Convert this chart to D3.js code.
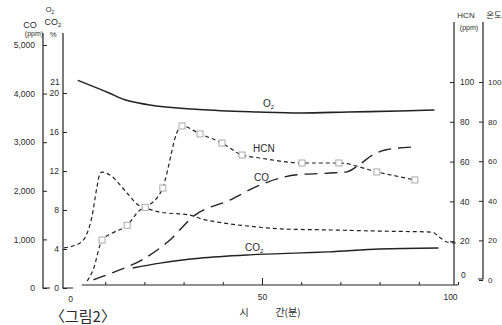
<!DOCTYPE html>
<html>
<head>
<meta charset="utf-8">
<script src="https://cdn.jsdelivr.net/npm/d3@7"></script>
<style>
body { margin:0; background:#fff; }
svg { display:block; font-family:"Liberation Sans", Arial, sans-serif; }
</style>
</head>
<body>
<svg width="502" height="325"></svg>
<script>
// data (time in minutes)
var o2Time = [3, 11, 15, 21, 34, 49, 60, 72, 85, 94];
var o2Pct  = [21.3, 20.0, 19.3, 18.8, 18.3, 18.05, 17.95, 18.05, 18.15, 18.25];

var co2Time = [17, 24, 34, 47, 60, 67, 80, 95];
var co2Pct  = [2.05, 2.55, 3.05, 3.4, 3.6, 3.7, 4.0, 4.1];

var coTime = [7, 11.7, 19.4, 26, 32.9, 41.8, 49.5, 58.9, 68.6, 71.7, 75, 78.3, 81.4, 88.3];
var coPpm  = [170, 310, 580, 950, 1500, 1810, 2120, 2330, 2370, 2390, 2550, 2740, 2840, 2900];

var hcnTime = [5.4, 6.9, 9.2, 11.7, 15.6, 18.9, 20.2, 24.7, 25.3, 28.6, 29.6, 34.2, 39.8, 44.9, 49.5, 60.2, 69.6, 79.3, 89];
var hcnPpm  = [0, 5.5, 20.6, 24, 28, 35.7, 37, 46.7, 50.8, 75.9, 77.9, 73.9, 69.3, 63.3, 61.8, 59.3, 59.3, 54.8, 50.8];
var hcnMark = [0, 0, 1, 0, 1, 0, 1, 1, 0, 0, 1, 1, 1, 1, 0, 1, 1, 1, 1];

var tempTime = [-0.5, 3.6, 5.4, 6.6, 7.9, 8.7, 9.2, 11.2, 15.6, 18.4, 20.2, 24, 31.6, 34.7, 40.1, 48.7, 54.8, 66.8, 79.8, 93.4, 95.2, 97.2, 99.7];
var tempC    = [16.2, 18.7, 23.7, 31.8, 47, 54, 54.5, 53, 43.9, 37.9, 36.4, 34.3, 32.8, 30.8, 28.8, 26.8, 25.8, 25.3, 24.7, 24.2, 21.7, 19.2, 18.7];

var coTicks   = [0, 1000, 2000, 3000, 4000, 5000];
var pctTicks  = [0, 4, 8, 12, 16, 20];
var rightTicks = [0, 20, 40, 60, 80, 100];
var timeTicks = [0, 10, 20, 30, 40, 50, 60, 70, 80, 90, 100];

var svg = d3.select("svg");
var ink = "#222";
var txt = "#2a2a2a";

var xScale = d3.scaleLinear().domain([0, 100]).range([66, 458]);
var yCO = d3.scaleLinear().domain([0, 5000]).range([288, 45]);
var yPct = d3.scaleLinear().domain([0, 20]).range([288, 93]);
var yHCN = d3.scaleLinear().domain([0, 100]).range([281, 82]);
var yTemp = d3.scaleLinear().domain([0, 100]).range([280, 82]);

var pairs = function(ts, vs)
{
    return ts.map(function(t, i){ return {t:t, v:vs[i], i:i}; });
}

var styleAxis = function(g)
{
    g.select(".domain").remove();
    g.selectAll("line").attr("stroke", ink).attr("stroke-width", 1);
    g.selectAll("text").attr("font-size", 8.5).attr("fill", txt);
}

// left axes: CO (ppm) and O2/CO2 (%)
svg.append("g")
    .attr("transform", "translate(43,0)")
    .call(d3.axisLeft(yCO).tickValues(coTicks).tickSizeInner(-4).tickPadding(8).tickFormat(d3.format(",")))
    .call(styleAxis);

svg.append("g")
    .attr("transform", "translate(63,0)")
    .call(d3.axisLeft(yPct).tickValues(pctTicks).tickSizeInner(-4).tickPadding(4))
    .call(styleAxis);

// right axes: HCN (ppm) and temperature
svg.append("g")
    .attr("transform", "translate(454,0)")
    .call(d3.axisRight(yHCN).tickValues(rightTicks.slice(1)).tickSizeInner(-4).tickPadding(6))
    .call(styleAxis);

var tg = svg.append("g")
    .attr("transform", "translate(483,0)")
    .call(d3.axisRight(yTemp).tickValues(rightTicks).tickSizeInner(-4).tickPadding(5))
    .call(styleAxis);
tg.selectAll("text").attr("font-size", 8);

// HCN zero label sits a bit above the baseline
svg.append("text").attr("x", 461).attr("y", 278).attr("font-size", 8.5).attr("fill", txt).text("0");

// axis lines with feet
var axisPath = [
    [[43, 33], [43, 288], [50, 288]],
    [[63, 33], [63, 288], [73, 288]],
    [[454, 22], [454, 285]],
    [[483, 22], [483, 279], [478, 279]]
];
svg.selectAll(".axline")
    .data(axisPath)
    .enter()
    .append("path")
    .attr("class", "axline")
    .attr("d", d3.line())
    .attr("fill", "none")
    .attr("stroke", ink)
    .attr("stroke-width", 1.2);

// bottom time axis
var xAxis = d3.axisBottom(xScale)
    .tickValues(timeTicks)
    .tickSizeInner(-3)
    .tickPadding(9)
    .tickFormat(function(d){ return (d == 0 || d == 50 || d == 100) ? d : ""; });

var xg = svg.append("g")
    .attr("transform", "translate(0,285)")
    .call(xAxis)
    .call(styleAxis);
xg.selectAll(".tick line").filter(function(d){ return d == 50; }).attr("y2", -7);
xg.selectAll(".tick line").filter(function(d){ return d == 0; }).remove();
xg.selectAll(".tick text").filter(function(d){ return d == 0; }).attr("dx", 4).attr("dy", "0.9em");
xg.selectAll(".tick text").filter(function(d){ return d == 100; }).attr("dx", -8);
svg.append("line")
    .attr("x1", xScale(4)).attr("x2", xScale(100))
    .attr("y1", 285).attr("y2", 285)
    .attr("stroke", ink).attr("stroke-width", 1.2);

// curves
var drawCurve = function(data, yScale, dash, width)
{
    var line = d3.line()
        .x(function(p){ return xScale(p.t); })
        .y(function(p){ return yScale(p.v); })
        .curve(d3.curveMonotoneX);
    svg.append("path")
        .datum(data)
        .attr("d", line)
        .attr("fill", "none")
        .attr("stroke", ink)
        .attr("stroke-width", width)
        .attr("stroke-dasharray", dash);
}

drawCurve(pairs(o2Time, o2Pct), yPct, null, 1.6);
drawCurve(pairs(co2Time, co2Pct), yPct, null, 1.4);
drawCurve(pairs(coTime, coPpm), yCO, "13,7", 1.4);
drawCurve(pairs(tempTime, tempC), yTemp, "4,3", 1.2);
drawCurve(pairs(hcnTime, hcnPpm), yHCN, "4,3", 1.2);

svg.selectAll(".mark")
    .data(pairs(hcnTime, hcnPpm).filter(function(p){ return hcnMark[p.i]; }))
    .enter()
    .append("rect")
    .attr("class", "mark")
    .attr("x", function(p){ return xScale(p.t) - 3; })
    .attr("y", function(p){ return yHCN(p.v) - 3; })
    .attr("width", 6)
    .attr("height", 6)
    .attr("fill", "#fff")
    .attr("stroke", "#aaa")
    .attr("stroke-width", 1);

// curve labels
var label = function(x, y, main, sub)
{
    var t = svg.append("text").attr("x", x).attr("y", y).attr("font-size", 10).attr("fill", txt).text(main);
    if (sub) {
        t.append("tspan").attr("font-size", 6).attr("dy", 2).text(sub);
    }
}
label(263, 107, "O", "2");
label(253, 152, "HCN");
label(254, 181, "CO");
label(245, 251, "CO", "2");

// axis headers
var small = function(x, y, s, str, anchor)
{
    return svg.append("text").attr("x", x).attr("y", y).attr("font-size", s)
        .attr("fill", txt).attr("text-anchor", anchor || "middle").text(str);
}
small(30, 28, 9, "CO");
small(34, 36, 7, "(ppm)");
var o2h = small(50, 12, 7.5, "O");
o2h.append("tspan").attr("font-size", 5).attr("dy", 1.5).text("2");
var co2h = small(53, 25, 9, "CO");
co2h.append("tspan").attr("font-size", 6).attr("dy", 2).text("2");
small(53, 37, 7.5, "%");
small(55, 85, 8.5, "21");
small(466, 18, 8, "HCN");
small(494, 18, 8.5, "온도").attr("font-family", "Noto Sans CJK KR");
small(469, 30, 7, "(ppm)");

// x title and figure caption
small(244, 316, 10, "시").attr("font-family", "Noto Sans CJK KR");
small(288, 316, 10, "간(분)").attr("font-family", "Noto Sans CJK KR");
svg.append("text").attr("x", 50).attr("y", 322).attr("font-size", 15)
    .attr("fill", txt).attr("font-family", "Noto Sans CJK KR").text("〈그림2〉");
</script>
</body>
</html>
